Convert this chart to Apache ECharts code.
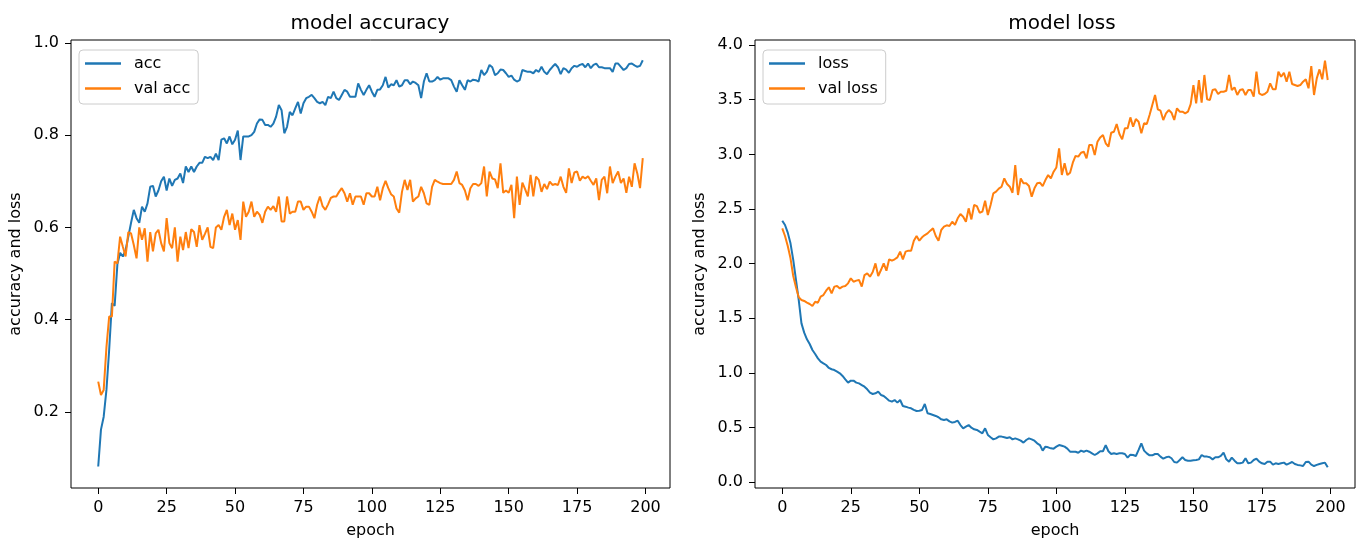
<!DOCTYPE html>
<html>
<head>
<meta charset="utf-8">
<script src="https://cdn.jsdelivr.net/npm/echarts@6/dist/echarts.min.js"></script>
<style>
  html, body { margin: 0; padding: 0; background: #ffffff; }
  #chart { width: 1365px; height: 545px; }
</style>
</head>
<body>
<div id="chart"></div>
<script>
// Training history, one value per epoch (200 epochs)
const acc = [
  0.082, 0.162, 0.190, 0.248, 0.335, 0.436, 0.430, 0.520, 0.545, 0.537,
  0.551, 0.580, 0.610, 0.638, 0.620, 0.610, 0.645, 0.634, 0.652, 0.688,
  0.690, 0.667, 0.680, 0.700, 0.710, 0.680, 0.706, 0.690, 0.703, 0.706,
  0.717, 0.696, 0.732, 0.720, 0.732, 0.720, 0.732, 0.740, 0.740, 0.753,
  0.750, 0.753, 0.746, 0.760, 0.746, 0.790, 0.793, 0.782, 0.797, 0.780,
  0.790, 0.810, 0.746, 0.797, 0.797, 0.797, 0.800, 0.807, 0.825, 0.834,
  0.833, 0.822, 0.822, 0.818, 0.825, 0.840, 0.865, 0.854, 0.804, 0.818,
  0.850, 0.843, 0.858, 0.872, 0.847, 0.869, 0.880, 0.883, 0.887, 0.880,
  0.872, 0.869, 0.872, 0.865, 0.883, 0.880, 0.894, 0.880, 0.876, 0.887,
  0.898, 0.894, 0.883, 0.883, 0.883, 0.912, 0.898, 0.887, 0.898, 0.908,
  0.894, 0.883, 0.898, 0.899, 0.908, 0.926, 0.903, 0.910, 0.908, 0.919,
  0.905, 0.908, 0.919, 0.919, 0.910, 0.916, 0.913, 0.908, 0.880, 0.916,
  0.934, 0.916, 0.916, 0.919, 0.926, 0.920, 0.923, 0.923, 0.923, 0.919,
  0.905, 0.894, 0.919, 0.908, 0.898, 0.919, 0.916, 0.920, 0.919, 0.916,
  0.941, 0.930, 0.937, 0.952, 0.947, 0.930, 0.934, 0.942, 0.941, 0.934,
  0.926, 0.929, 0.920, 0.916, 0.919, 0.941, 0.939, 0.937, 0.937, 0.934,
  0.941, 0.937, 0.948, 0.937, 0.932, 0.941, 0.948, 0.954, 0.947, 0.932,
  0.945, 0.942, 0.935, 0.945, 0.950, 0.948, 0.952, 0.954, 0.947, 0.955,
  0.945, 0.952, 0.955, 0.947, 0.947, 0.945, 0.945, 0.945, 0.937, 0.955,
  0.955, 0.948, 0.941, 0.945, 0.954, 0.955, 0.951, 0.948, 0.950, 0.962
];

const valAcc = [
  0.266, 0.237, 0.248, 0.340, 0.407, 0.407, 0.526, 0.522, 0.580, 0.558,
  0.537, 0.590, 0.587, 0.562, 0.533, 0.600, 0.573, 0.598, 0.526, 0.590,
  0.548, 0.587, 0.595, 0.566, 0.548, 0.620, 0.566, 0.555, 0.600, 0.526,
  0.580, 0.551, 0.590, 0.555, 0.596, 0.590, 0.558, 0.605, 0.573, 0.586,
  0.600, 0.558, 0.555, 0.600, 0.605, 0.595, 0.623, 0.638, 0.605, 0.630,
  0.595, 0.616, 0.573, 0.656, 0.623, 0.634, 0.656, 0.623, 0.634, 0.627,
  0.610, 0.634, 0.645, 0.638, 0.646, 0.634, 0.667, 0.613, 0.613, 0.667,
  0.630, 0.634, 0.634, 0.656, 0.656, 0.638, 0.645, 0.645, 0.634, 0.620,
  0.649, 0.667, 0.646, 0.638, 0.650, 0.664, 0.667, 0.667, 0.677, 0.685,
  0.674, 0.656, 0.674, 0.649, 0.667, 0.667, 0.667, 0.649, 0.674, 0.674,
  0.667, 0.667, 0.688, 0.659, 0.685, 0.701, 0.685, 0.672, 0.667, 0.641,
  0.632, 0.677, 0.703, 0.681, 0.703, 0.656, 0.663, 0.667, 0.688, 0.674,
  0.652, 0.649, 0.688, 0.703, 0.699, 0.696, 0.694, 0.694, 0.694, 0.694,
  0.703, 0.721, 0.696, 0.692, 0.680, 0.659, 0.685, 0.694, 0.694, 0.690,
  0.696, 0.732, 0.667, 0.721, 0.706, 0.704, 0.685, 0.739, 0.675, 0.680,
  0.675, 0.692, 0.620, 0.710, 0.649, 0.697, 0.683, 0.667, 0.714, 0.667,
  0.710, 0.703, 0.677, 0.694, 0.683, 0.699, 0.692, 0.694, 0.692, 0.710,
  0.688, 0.675, 0.728, 0.696, 0.719, 0.721, 0.701, 0.710, 0.706, 0.711,
  0.701, 0.692, 0.706, 0.659, 0.703, 0.710, 0.674, 0.732, 0.696, 0.710,
  0.721, 0.696, 0.706, 0.675, 0.710, 0.688, 0.739, 0.717, 0.685, 0.750
];

const loss = [
  2.393, 2.354, 2.284, 2.186, 2.034, 1.851, 1.668, 1.454, 1.369, 1.308,
  1.265, 1.210, 1.174, 1.134, 1.104, 1.088, 1.073, 1.046, 1.034, 1.027,
  1.012, 0.997, 0.973, 0.942, 0.912, 0.930, 0.930, 0.912, 0.905, 0.890,
  0.875, 0.851, 0.820, 0.808, 0.814, 0.829, 0.799, 0.790, 0.768, 0.747,
  0.738, 0.753, 0.729, 0.753, 0.698, 0.692, 0.683, 0.677, 0.662, 0.652,
  0.655, 0.662, 0.716, 0.631, 0.625, 0.616, 0.607, 0.595, 0.576, 0.570,
  0.576, 0.558, 0.546, 0.552, 0.564, 0.524, 0.494, 0.509, 0.524, 0.500,
  0.485, 0.479, 0.463, 0.448, 0.494, 0.433, 0.412, 0.393, 0.402, 0.418,
  0.418, 0.412, 0.405, 0.412, 0.393, 0.402, 0.393, 0.381, 0.363, 0.387,
  0.402, 0.393, 0.381, 0.357, 0.341, 0.290, 0.326, 0.320, 0.311, 0.308,
  0.326, 0.341, 0.335, 0.326, 0.308, 0.280, 0.280, 0.280, 0.271, 0.290,
  0.280, 0.290, 0.280, 0.265, 0.250, 0.265, 0.284, 0.284, 0.341, 0.284,
  0.259, 0.265, 0.259, 0.265, 0.265, 0.259, 0.226, 0.253, 0.250, 0.241,
  0.296, 0.357, 0.290, 0.265, 0.247, 0.247, 0.259, 0.259, 0.235, 0.216,
  0.229, 0.235, 0.220, 0.186, 0.180, 0.204, 0.229, 0.204, 0.198, 0.198,
  0.201, 0.204, 0.210, 0.250, 0.235, 0.235, 0.229, 0.210, 0.229, 0.229,
  0.241, 0.271, 0.210, 0.189, 0.226, 0.198, 0.174, 0.174, 0.180, 0.220,
  0.174, 0.180, 0.204, 0.216, 0.189, 0.174, 0.168, 0.189, 0.189, 0.162,
  0.174, 0.168, 0.174, 0.180, 0.162, 0.174, 0.186, 0.168, 0.159, 0.155,
  0.149, 0.186, 0.189, 0.162, 0.149, 0.159, 0.168, 0.174, 0.180, 0.137
];

const valLoss = [
  2.323, 2.253, 2.162, 2.049, 1.887, 1.784, 1.692, 1.668, 1.659, 1.643,
  1.631, 1.613, 1.652, 1.643, 1.698, 1.713, 1.753, 1.784, 1.729, 1.790,
  1.796, 1.774, 1.790, 1.796, 1.820, 1.866, 1.835, 1.845, 1.851, 1.790,
  1.896, 1.912, 1.881, 1.924, 2.003, 1.887, 1.942, 2.003, 1.936, 2.040,
  2.027, 2.040, 2.058, 2.110, 2.040, 2.110, 2.119, 2.119, 2.210, 2.253,
  2.210, 2.241, 2.262, 2.277, 2.302, 2.323, 2.253, 2.210, 2.308, 2.338,
  2.351, 2.345, 2.384, 2.354, 2.415, 2.454, 2.430, 2.384, 2.506, 2.405,
  2.537, 2.527, 2.466, 2.476, 2.576, 2.445, 2.537, 2.643, 2.659, 2.686,
  2.704, 2.780, 2.729, 2.704, 2.649, 2.902, 2.628, 2.780, 2.735, 2.735,
  2.710, 2.613, 2.689, 2.735, 2.741, 2.710, 2.765, 2.811, 2.780, 2.841,
  2.880, 3.055, 2.811, 2.918, 2.811, 2.832, 2.924, 2.985, 2.979, 3.015,
  3.024, 2.963, 3.085, 3.085, 2.994, 3.116, 3.155, 3.177, 3.101, 3.070,
  3.198, 3.207, 3.277, 3.186, 3.137, 3.238, 3.238, 3.338, 3.253, 3.323,
  3.299, 3.192, 3.284, 3.277, 3.360, 3.451, 3.543, 3.412, 3.399, 3.314,
  3.375, 3.405, 3.381, 3.314, 3.421, 3.390, 3.390, 3.375, 3.390, 3.460,
  3.634, 3.466, 3.680, 3.473, 3.726, 3.503, 3.497, 3.588, 3.595, 3.552,
  3.573, 3.573, 3.582, 3.726, 3.588, 3.613, 3.543, 3.588, 3.595, 3.543,
  3.588, 3.588, 3.527, 3.756, 3.558, 3.543, 3.552, 3.573, 3.649, 3.595,
  3.595, 3.756, 3.710, 3.747, 3.665, 3.756, 3.643, 3.634, 3.625, 3.634,
  3.665, 3.686, 3.604, 3.808, 3.543, 3.695, 3.777, 3.686, 3.857, 3.680
];

const epochs = acc.map((_, i) => i);

// Tick positions
const epochTicks = [0, 25, 50, 75, 100, 125, 150, 175, 200];
const accTicks = [0.2, 0.4, 0.6, 0.8, 1.0];
const lossTicks = [0, 0.5, 1.0, 1.5, 2.0, 2.5, 3.0, 3.5, 4.0];

const FONT = 'DejaVu Sans';
const INK = '#000000';
const BLUE = '#1f77b4';
const ORANGE = '#ff7f0e';

function pairs(values) {
  return epochs.map((e, i) => [e, values[i]]);
}

function epochAxis(gridIndex) {
  return {
    type: 'value',
    gridIndex: gridIndex,
    min: -9.95,
    max: 208.95,
    name: 'epoch',
    nameLocation: 'middle',
    nameGap: 35,
    nameMoveOverlap: false,
    nameTextStyle: { fontFamily: FONT, fontSize: 16, color: INK },
    axisLine: { show: false, onZero: false },
    splitLine: { show: false },
    axisTick: { show: true, inside: false, length: 6, customValues: epochTicks,
                lineStyle: { color: INK, width: 1 } },
    axisLabel: { customValues: epochTicks, margin: 12, fontFamily: FONT, fontSize: 16, color: INK }
  };
}

function valueAxis(gridIndex, min, max, ticks) {
  return {
    type: 'value',
    gridIndex: gridIndex,
    min: min,
    max: max,
    name: 'accuracy and loss',
    nameLocation: 'middle',
    nameRotate: 90,
    nameGap: 47,
    nameMoveOverlap: false,
    nameTextStyle: { fontFamily: FONT, fontSize: 16, color: INK },
    axisLine: { show: false, onZero: false },
    splitLine: { show: false },
    axisTick: { show: true, inside: false, length: 6, customValues: ticks,
                lineStyle: { color: INK, width: 1 } },
    axisLabel: { customValues: ticks, margin: 12, fontFamily: FONT, fontSize: 16, color: INK,
                 formatter: v => Number(v).toFixed(1) }
  };
}

function legendAt(left, names) {
  return {
    orient: 'vertical',
    left: left,
    top: 50,
    data: names,
    icon: 'rect',
    itemWidth: 36,
    itemHeight: 2.5,
    itemGap: 6,
    padding: [4, 8, 6, 6],
    backgroundColor: 'rgba(255,255,255,0.8)',
    borderColor: '#cccccc',
    borderWidth: 1,
    borderRadius: 4,
    textStyle: { fontFamily: FONT, fontSize: 16, color: INK, lineHeight: 19, padding: [0, 0, 0, 8] }
  };
}

function lineSeries(name, xi, values, color) {
  return {
    name: name,
    type: 'line',
    xAxisIndex: xi,
    yAxisIndex: xi,
    data: pairs(values),
    showSymbol: false,
    symbol: 'none',
    lineStyle: { color: color, width: 2 },
    itemStyle: { color: color },
    emphasis: { disabled: true }
  };
}

const chart = echarts.init(document.getElementById('chart'), null, { renderer: 'canvas' });
chart.setOption({
  animation: false,
  backgroundColor: '#ffffff',
  title: [
    { text: 'model accuracy', left: 365, top: 9, textAlign: 'center',
      textStyle: { fontFamily: FONT, fontSize: 20, fontWeight: 'normal', color: INK } },
    { text: 'model loss', left: 1057, top: 9, textAlign: 'center',
      textStyle: { fontFamily: FONT, fontSize: 20, fontWeight: 'normal', color: INK } }
  ],
  legend: [
    legendAt(79, ['acc', 'val acc']),
    legendAt(763, ['loss', 'val loss'])
  ],
  grid: [
    { left: 71, right: 695, top: 40, bottom: 57, show: true, borderColor: INK, borderWidth: 1, backgroundColor: 'transparent' },
    { left: 755, right: 10, top: 40, bottom: 57, show: true, borderColor: INK, borderWidth: 1, backgroundColor: 'transparent' }
  ],
  xAxis: [epochAxis(0), epochAxis(1)],
  yAxis: [
    valueAxis(0, 0.0355, 1.006, accTicks),
    valueAxis(1, -0.052, 4.046, lossTicks)
  ],
  series: [
    lineSeries('acc', 0, acc, BLUE),
    lineSeries('val acc', 0, valAcc, ORANGE),
    lineSeries('loss', 1, loss, BLUE),
    lineSeries('val loss', 1, valLoss, ORANGE)
  ]
});
</script>
</body>
</html>
